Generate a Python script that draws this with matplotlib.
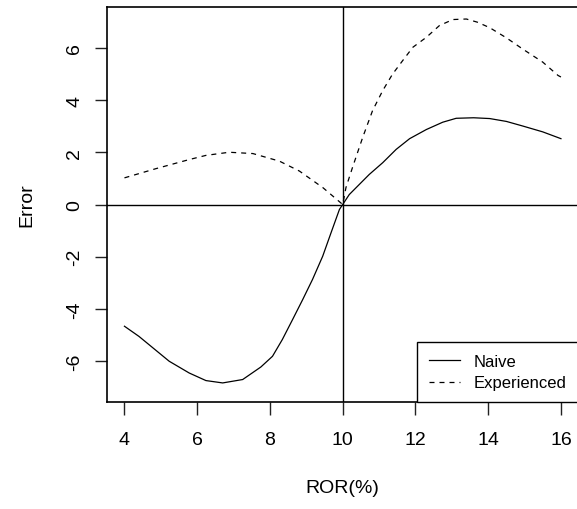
import matplotlib
matplotlib.use('Agg')
import matplotlib.pyplot as plt

plt.rcParams['font.family'] = ['Liberation Sans', 'DejaVu Sans']
plt.rcParams['axes.unicode_minus'] = False

# values
naive_x = [4.0, 4.4, 5.23, 5.78, 6.24, 6.7, 7.25, 7.75, 8.07, 8.34, 8.62, 8.90, 9.17, 9.45,
           9.68, 9.91, 10.0, 10.18, 10.73, 11.10, 11.47, 11.84, 12.30, 12.75, 13.12, 13.6,
           14.04, 14.5, 14.96, 15.5, 16.0]
naive_y = [-4.66, -5.05, -6.0, -6.45, -6.74, -6.83, -6.70, -6.22, -5.81, -5.17, -4.41, -3.64,
           -2.87, -1.98, -1.08, -0.19, 0.0, 0.38, 1.15, 1.60, 2.11, 2.52, 2.87, 3.15, 3.30, 3.32,
           3.29, 3.18, 3.0, 2.78, 2.52]

exp_x = [4.0, 4.86, 5.78, 6.24, 6.88, 7.53, 8.26, 8.81, 9.46, 10.0, 10.09, 10.27, 10.55,
         10.82, 11.10, 11.37, 11.65, 11.93, 12.30, 12.66, 13.03, 13.40, 13.7, 14.04, 14.5,
         14.96, 15.5, 15.92, 16.0]
exp_y = [1.02, 1.37, 1.72, 1.88, 2.0, 1.95, 1.66, 1.28, 0.64, 0.0, 0.65, 1.42, 2.57,
         3.59, 4.36, 4.99, 5.51, 6.02, 6.40, 6.85, 7.08, 7.10, 6.98, 6.77, 6.38,
         5.94, 5.45, 4.94, 4.88]

xticks = [4, 6, 8, 10, 12, 14, 16]
yticks = [-6, -4, -2, 0, 2, 4, 6]

fig = plt.figure(figsize=(5.77, 5.10), dpi=100)
ax = fig.add_axes([107 / 577, 1 - 403 / 510, (578.4 - 107) / 577, (403 - 8) / 510])

ax.plot(naive_x, naive_y, color='black', lw=0.9, label='Naive')
ax.plot(exp_x, exp_y, color='black', lw=0.9, linestyle=(0, (4, 4)), label='Experienced')
ax.axvline(10, color='black', lw=1.0)
ax.axhline(0, color='black', lw=1.0)

ax.set_xlim(3.52, 16.48)
ax.set_ylim(-7.56, 7.56)
ax.set_xticks(xticks)
ax.set_yticks(yticks)
ax.tick_params(axis='both', length=9, width=1.0, labelsize=14, color='#222222')
ax.tick_params(axis='x', pad=12)
ax.tick_params(axis='y', pad=8)
for lab in ax.get_yticklabels():
    lab.set_rotation(90)
    lab.set_va('center')
for s in ax.spines.values():
    s.set_linewidth(1.2)

ax.set_xlabel('ROR(%)', fontsize=14, labelpad=22)
ax.set_ylabel('Error', fontsize=14, labelpad=22)

leg = ax.legend(loc='lower right', fontsize=12, fancybox=False, edgecolor='black',
                framealpha=1, borderpad=0.7, handlelength=1.85, handletextpad=0.85,
                labelspacing=0.4, borderaxespad=0)
leg.get_frame().set_linewidth(1.0)

fig.savefig('out.png', dpi=100)
